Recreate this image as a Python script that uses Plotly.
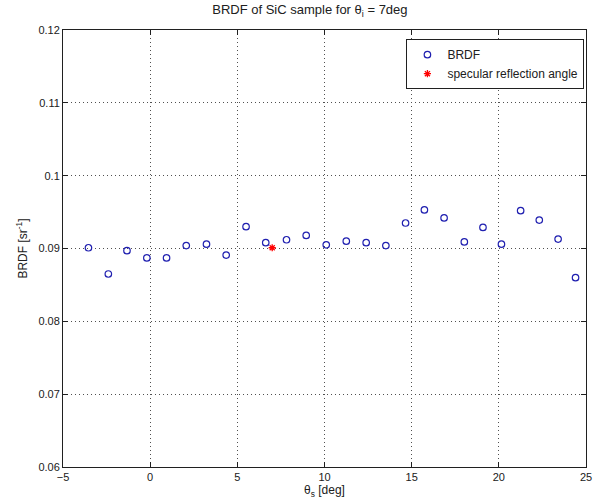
import plotly.graph_objects as go

# scattering angle theta_s [deg] and measured BRDF [1/sr]
theta_s = [-3.54, -2.40, -1.33, -0.19, 0.94, 2.07, 3.23, 4.36, 5.50, 6.63,
           7.82, 8.95, 10.10, 11.25, 12.39, 13.52, 14.65, 15.73, 16.86, 18.02,
           19.09, 20.15, 21.25, 22.32, 23.40, 24.40]
brdf = [0.0901, 0.0865, 0.0897, 0.0887, 0.0887, 0.0904, 0.0906, 0.0891, 0.0930, 0.0908,
        0.0912, 0.0918, 0.0905, 0.0910, 0.0908, 0.0904, 0.0935, 0.0953, 0.0942, 0.0909,
        0.0929, 0.0906, 0.0952, 0.0939, 0.0913, 0.0860]

spec_theta = [7.0]
spec_brdf = [0.0901]

x_ticks = [-5, 0, 5, 10, 15, 20, 25]
y_ticks = [0.06, 0.07, 0.08, 0.09, 0.1, 0.11, 0.12]
y_tick_text = ['0.06', '0.07', '0.08', '0.09', '0.1', '0.11', '0.12']

fig = go.Figure()
fig.add_trace(go.Scatter(x=theta_s, y=brdf, mode='markers', name='BRDF',
                         marker=dict(symbol='circle-open', size=6.5, color='#2020b0',
                                     line=dict(width=1.2, color='#2020b0'))))
fig.add_trace(go.Scatter(x=spec_theta, y=spec_brdf, mode='markers',
                         name='specular reflection angle',
                         marker=dict(symbol='asterisk-open', size=6, color='#ff0000',
                                     line=dict(width=1.3, color='#ff0000'))))

axis_common = dict(showline=True, linecolor='#202020', linewidth=1, mirror='ticks',
                   ticks='inside', ticklen=5, tickcolor='#202020',
                   showgrid=True, gridcolor='#505050', griddash='1px,3px', gridwidth=1,
                   zeroline=False, ticklabeloverflow='allow',
                   tickfont=dict(size=11, color='#202020'))

fig.update_xaxes(range=[-5, 25], tickvals=x_ticks,
                 title=dict(text='θ<sub>s</sub> [deg]', font=dict(size=12), standoff=3),
                 **axis_common)
fig.update_yaxes(range=[0.06, 0.12], tickvals=y_ticks, ticktext=y_tick_text,
                 title=dict(text='BRDF [sr<sup>-1</sup>]', font=dict(size=12), standoff=8),
                 **axis_common)

fig.update_layout(
    width=596, height=501,
    margin=dict(l=63, r=4, t=30, b=34),
    paper_bgcolor='white', plot_bgcolor='white',
    font=dict(family='Liberation Sans, Arial, sans-serif', size=11, color='#202020'),
    title=dict(text='BRDF of SiC sample for θ<sub>i</sub> = 7deg', x=0.52, xanchor='center',
               y=0.99, yanchor='top', font=dict(size=13)),
    legend=dict(x=0.997, y=0.979, xanchor='right', yanchor='top',
                bgcolor='white', bordercolor='#202020', borderwidth=1,
                font=dict(size=12), itemwidth=30, tracegroupgap=0),
    showlegend=True,
)

# drop the default page margin so the figure sits at the window's top-left corner
fig.write_html("out.html", config={'displayModeBar': False},
               post_script="document.body.style.margin='0';")
